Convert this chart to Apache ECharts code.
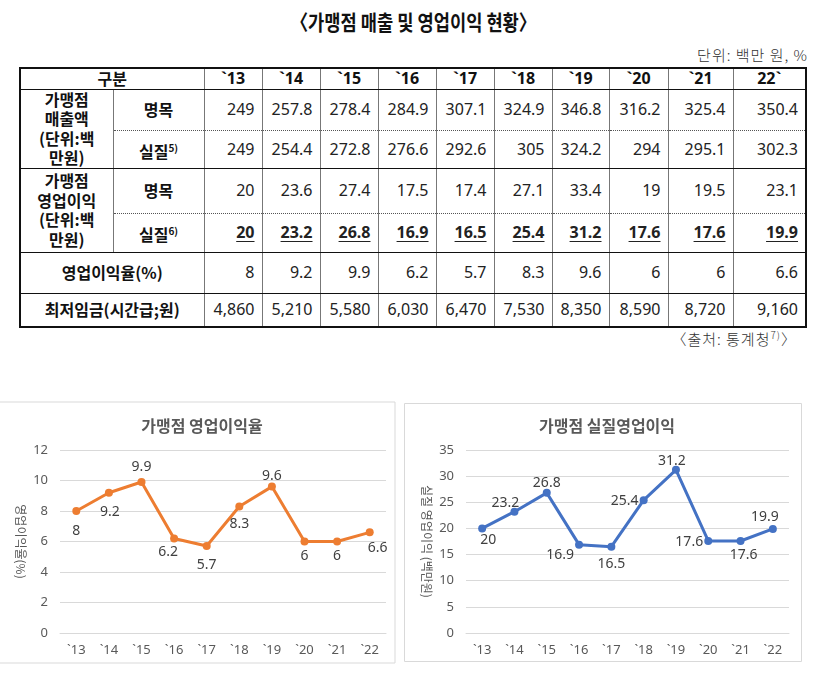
<!DOCTYPE html>
<html><head><meta charset="utf-8">
<script src="https://cdn.jsdelivr.net/npm/echarts@6/dist/echarts.min.js"></script>
<style>
html,body{margin:0;padding:0;background:#fff;width:826px;height:684px;overflow:hidden;font-family:"Noto Sans","Noto Sans CJK KR",sans-serif;}
#title{position:absolute;left:0;width:826px;top:6px;text-align:center;font-size:21px;font-weight:bold;color:#111;font-family:"Noto Sans CJK KR",sans-serif;}
#title span{display:inline-block;transform:scaleX(0.84);}
#unit{position:absolute;right:18px;top:44px;font-size:15px;color:#333;letter-spacing:1px;font-family:"Noto Sans CJK KR",sans-serif;font-weight:300;}
#src{position:absolute;right:29px;top:327px;font-size:15px;color:#333;letter-spacing:1px;font-family:"Noto Sans CJK KR",sans-serif;font-weight:300;}
table{position:absolute;left:19px;top:67px;border-collapse:collapse;table-layout:fixed;width:786px;border:2px solid #111;}
td{padding:0;font-size:16px;color:#222;line-height:19px;border-left:1px solid #777;border-right:1px solid #777;overflow:hidden;white-space:nowrap;}
td.v{text-align:right;padding-right:7px;font-weight:400;}
td.l{text-align:center;font-weight:bold;color:#111;font-family:"Noto Sans CJK KR",sans-serif;}
td.l1{white-space:normal;line-height:19.5px;}
tr.hd td{font-weight:bold;text-align:center;border-bottom:1.5px solid #111;color:#111;}
tr.dt td{border-bottom:1px dotted #555;}
tr.so td{border-bottom:1.5px solid #111;}
td.rs{border-bottom:1.5px solid #111 !important;}
td.u{font-weight:bold;}
td.u span{text-decoration:underline;text-underline-offset:3px;}
sup{font-size:10px;vertical-align:6px;}
#chart{position:absolute;left:0;top:390px;width:826px;height:294px;}
</style></head>
<body>
<div id="title"><span>〈가맹점 매출 및 영업이익 현황〉</span></div>
<div id="unit">단위: 백만 원, %</div>
<table id="tbl">
<colgroup id="cols"></colgroup>
<tbody id="tb"></tbody>
</table>
<div id="src">〈출처: 통계청<sup>7)</sup>〉</div>
<div id="chart"></div>
<script>
// ---- data ----
const tableYears = ["`13","`14","`15","`16","`17","`18","`19","`20","`21","22`"];
const salesNominal = ["249","257.8","278.4","284.9","307.1","324.9","346.8","316.2","325.4","350.4"];
const salesReal = ["249","254.4","272.8","276.6","292.6","305","324.2","294","295.1","302.3"];
const profitNominal = ["20","23.6","27.4","17.5","17.4","27.1","33.4","19","19.5","23.1"];
const profitReal = ["20","23.2","26.8","16.9","16.5","25.4","31.2","17.6","17.6","19.9"];
const marginRate = ["8","9.2","9.9","6.2","5.7","8.3","9.6","6","6","6.6"];
const minWage = ["4,860","5,210","5,580","6,030","6,470","7,530","8,350","8,590","8,720","9,160"];

const chartCats = ["`13","`14","`15","`16","`17","`18","`19","`20","`21","`22"];
const marginValues = [8,9.2,9.9,6.2,5.7,8.3,9.6,6,6,6.6];
const realProfitValues = [20,23.2,26.8,16.9,16.5,25.4,31.2,17.6,17.6,19.9];

// ---- table ----
const colW = [93,91,58,58,58,58,58,58,57,59,65,73];
document.getElementById('cols').innerHTML = colW.map(w=>`<col style="width:${w}px">`).join('');
const rowH = [21,41,38,45,39,41,34];
function vals(arr, cls){ return arr.map(v=>`<td class="${cls||'v'}">${cls==='v u'?'<span>'+v+'</span>':v}</td>`).join(''); }
let html = '';
html += `<tr class="hd" style="height:${rowH[0]}px"><td colspan="2" class="l" style="font-family:'Noto Sans CJK KR'">구분</td>${tableYears.map(y=>`<td>${y}</td>`).join('')}</tr>`;
html += `<tr class="dt" style="height:${rowH[1]}px"><td rowspan="2" class="l l1 rs">가맹점<br>매출액<br>(단위:백<br>만원)</td><td class="l">명목</td>${vals(salesNominal)}</tr>`;
html += `<tr class="so" style="height:${rowH[2]}px"><td class="l">실질<sup>5)</sup></td>${vals(salesReal)}</tr>`;
html += `<tr class="dt" style="height:${rowH[3]}px"><td rowspan="2" class="l l1 rs">가맹점<br>영업이익<br>(단위:백<br>만원)</td><td class="l">명목</td>${vals(profitNominal)}</tr>`;
html += `<tr class="so" style="height:${rowH[4]}px"><td class="l">실질<sup>6)</sup></td>${vals(profitReal,'v u')}</tr>`;
html += `<tr class="so" style="height:${rowH[5]}px"><td colspan="2" class="l">영업이익율(%)</td>${vals(marginRate)}</tr>`;
html += `<tr style="height:${rowH[6]}px"><td colspan="2" class="l">최저임금(시간급;원)</td>${vals(minWage)}</tr>`;
document.getElementById('tb').innerHTML = html;

// ---- charts ----
const marginLabelOffsets = [[0,20],[1,19],[0,-15],[-6,14],[0,19],[0,18],[0,-11],[0,15],[0,15],[8,16]];
const realLabelOffsets = [[6,12],[-9,-9],[0,-10],[-19,10],[0,17],[-19,1],[-4,-9],[-19,1],[3,14],[-8,-12]];
function withLabels(values, offs){
  return values.map((v,i)=>({value:v,label:{position:'inside',offset:offs[i]}}));
}
const FONT = '"Noto Sans","Noto Sans CJK KR",sans-serif';
const KFONT = '"Noto Sans CJK KR",sans-serif';
const axisTxt = {color:'#595959',fontSize:13,fontFamily:FONT};
function xA(gi){ return {type:'category',gridIndex:gi,data:chartCats,boundaryGap:true,
  axisLine:{show:true,lineStyle:{color:'#d9d9d9'}},axisTick:{show:false},
  axisLabel:Object.assign({margin:11},axisTxt)}; }
function yA(gi,max,interval,name){ return {type:'value',gridIndex:gi,min:0,max:max,interval:interval,
  name:name,nameLocation:'middle',nameRotate:-90,nameGap:33,
  nameTextStyle:{color:'#595959',fontSize:12,fontFamily:KFONT},
  axisLine:{show:false},axisTick:{show:false},
  splitLine:{lineStyle:{color:'#d9d9d9'}},
  axisLabel:Object.assign({margin:12},axisTxt)}; }
const lblStyle = {show:true,color:'#404040',fontSize:14,fontFamily:FONT};
const chart = echarts.init(document.getElementById('chart'),null,{renderer:'canvas'});
chart.setOption({
  animation:false,
  graphic:[
    {type:'rect',shape:{x:-2,y:12,width:397,height:261},style:{fill:'none',stroke:'#d9d9d9',lineWidth:1}},
    {type:'rect',shape:{x:404.5,y:13.5,width:397,height:258},style:{fill:'none',stroke:'#d9d9d9',lineWidth:1}}
  ],
  title:[
    {text:'가맹점 영업이익율',left:197,top:23,textAlign:'center',textStyle:{color:'#595959',fontSize:16,fontWeight:'bold',fontFamily:KFONT}},
    {text:'가맹점 실질영업이익',left:602,top:23,textAlign:'center',textStyle:{color:'#595959',fontSize:16,fontWeight:'bold',fontFamily:KFONT}}
  ],
  grid:[
    {left:60,right:440,top:60,bottom:51},
    {left:466,right:37,top:60,bottom:51}
  ],
  xAxis:[xA(0),xA(1)],
  yAxis:[yA(0,12,2,'영업이익율(%)'),yA(1,35,5,'실질 영업이익 (백만원)')],
  series:[
    {type:'line',xAxisIndex:0,yAxisIndex:0,data:withLabels(marginValues,marginLabelOffsets),
     lineStyle:{color:'#ED7D31',width:3},itemStyle:{color:'#ED7D31'},symbol:'circle',symbolSize:8,label:lblStyle},
    {type:'line',xAxisIndex:1,yAxisIndex:1,data:withLabels(realProfitValues,realLabelOffsets),
     lineStyle:{color:'#4472C4',width:3},itemStyle:{color:'#4472C4'},symbol:'circle',symbolSize:8,label:lblStyle}
  ]
});
</script>
</body></html>
